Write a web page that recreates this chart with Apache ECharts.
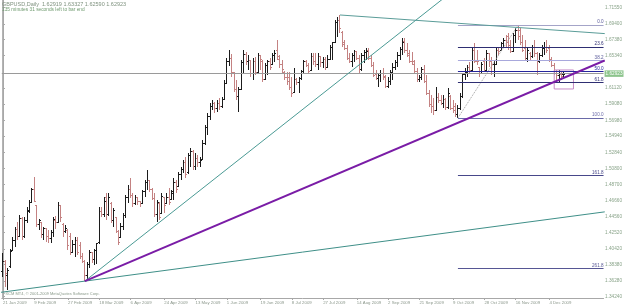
<!DOCTYPE html>
<html><head><meta charset="utf-8">
<script src="https://cdn.jsdelivr.net/npm/echarts@6/dist/echarts.min.js"></script>
<style>html,body{margin:0;padding:0;background:#fff}#c{width:625px;height:308px}</style>
</head><body><div id="c"></div>
<script>
// ---- data ----
const tickLabels = ['21 Jan 2009','9 Feb 2009','27 Feb 2009','18 Mar 2009','6 Apr 2009','24 Apr 2009','13 May 2009','1 Jun 2009','19 Jun 2009','8 Jul 2009','27 Jul 2009','14 Aug 2009','2 Sep 2009','21 Sep 2009','9 Oct 2009','28 Oct 2009','16 Nov 2009','4 Dec 2009'];
const tickIndex = [0,13,27,40,53,67,80,93,107,120,133,147,160,173,187,200,213,227];
const priceLabels = ['1.71550','1.69400','1.67380','1.65340','1.61120','1.59080','1.56980','1.54940','1.52840','1.50800','1.48700','1.46660','1.44560','1.42520','1.40420','1.38380','1.36280','1.34240'];
// daily bars [open, high, low, close], 21 Jan 2009 .. 14 Dec 2009
const ohlc = [
[1.3750,1.3990,1.3680,1.3880],[1.3880,1.3897,1.3548,1.3720],[1.3700,1.3790,1.3505,1.3760],[1.3810,1.4045,1.3800,1.4010],[1.4020,1.4190,1.4010,1.4150],
[1.4150,1.4320,1.4060,1.4290],[1.4290,1.4385,1.4155,1.4200],[1.4200,1.4475,1.4190,1.4430],[1.4430,1.4450,1.4155,1.4200],[1.4200,1.4450,1.4180,1.4400],
[1.4400,1.4580,1.4370,1.4540],[1.4520,1.4671,1.4500,1.4640],[1.4640,1.4825,1.4630,1.4800],[1.4800,1.4967,1.4640,1.4650],[1.4600,1.4610,1.4320,1.4360],
[1.4360,1.4430,1.4284,1.4400],[1.4380,1.4385,1.4180,1.4220],[1.4220,1.4320,1.4155,1.4300],[1.4300,1.4310,1.4130,1.4200],[1.4200,1.4284,1.4116,1.4180],
[1.4180,1.4280,1.4120,1.4250],[1.4250,1.4450,1.4190,1.4420],[1.4410,1.4460,1.4300,1.4380],[1.4380,1.4645,1.4370,1.4600],[1.4600,1.4610,1.4390,1.4450],
[1.4360,1.4380,1.4190,1.4270],[1.4270,1.4345,1.4245,1.4300],[1.4280,1.4300,1.4026,1.4080],[1.4200,1.4245,1.3960,1.4000],[1.4000,1.4155,1.3990,1.4100],
[1.4100,1.4190,1.3935,1.4150],[1.4150,1.4190,1.3960,1.4000],[1.4080,1.4130,1.3910,1.3940],[1.3940,1.3990,1.3860,1.3880],[1.3880,1.3897,1.3625,1.3700],
[1.3700,1.3870,1.3640,1.3840],[1.3840,1.4026,1.3800,1.3990],[1.3990,1.4000,1.3860,1.3900],[1.3900,1.4045,1.3830,1.4020],[1.4020,1.4116,1.3840,1.4110],
[1.4120,1.4580,1.4100,1.4520],[1.4520,1.4580,1.4450,1.4480],[1.4480,1.4710,1.4450,1.4650],[1.4700,1.4760,1.4413,1.4480],[1.4480,1.4760,1.4470,1.4700],
[1.4630,1.4640,1.4370,1.4400],[1.4400,1.4570,1.4320,1.4540],[1.4440,1.4450,1.4245,1.4270],[1.4270,1.4284,1.4090,1.4120],[1.4190,1.4370,1.4180,1.4330],
[1.4330,1.4500,1.4284,1.4470],[1.4470,1.4735,1.4440,1.4700],[1.4700,1.4865,1.4630,1.4810],[1.4810,1.4955,1.4700,1.4730],[1.4730,1.4760,1.4580,1.4620],
[1.4620,1.4735,1.4600,1.4700],[1.4700,1.4710,1.4600,1.4650],[1.4650,1.4655,1.4580,1.4620],[1.4630,1.4800,1.4620,1.4780],[1.4780,1.4930,1.4710,1.4900],
[1.4900,1.5057,1.4800,1.4920],[1.4920,1.4930,1.4775,1.4800],[1.4800,1.4825,1.4671,1.4690],[1.4690,1.4760,1.4450,1.4480],[1.4480,1.4671,1.4390,1.4640],
[1.4630,1.4640,1.4413,1.4450],[1.4500,1.4760,1.4490,1.4720],[1.4700,1.4710,1.4500,1.4600],[1.4630,1.4760,1.4620,1.4700],[1.4700,1.4825,1.4605,1.4640],
[1.4680,1.4800,1.4671,1.4780],[1.4760,1.4955,1.4671,1.4900],[1.4900,1.4929,1.4760,1.4800],[1.4850,1.5030,1.4840,1.5000],[1.5000,1.5096,1.4929,1.5060],
[1.5060,1.5186,1.5018,1.5150],[1.5150,1.5225,1.4955,1.5000],[1.5020,1.5277,1.5010,1.5240],[1.5240,1.5341,1.5096,1.5300],[1.5300,1.5315,1.5057,1.5100],
[1.5100,1.5277,1.5057,1.5200],[1.5200,1.5251,1.5096,1.5150],[1.5150,1.5225,1.5096,1.5180],[1.5190,1.5444,1.5186,1.5400],[1.5400,1.5640,1.5380,1.5600],
[1.5600,1.5790,1.5510,1.5750],[1.5750,1.5920,1.5700,1.5880],[1.5880,1.5960,1.5830,1.5920],[1.5920,1.5935,1.5790,1.5850],[1.5850,1.5960,1.5805,1.5920],
[1.5920,1.5985,1.5830,1.5870],[1.5870,1.5998,1.5860,1.5970],[1.5970,1.6218,1.5960,1.6170],[1.6170,1.6501,1.6160,1.6450],[1.6450,1.6605,1.6400,1.6500],
[1.6500,1.6550,1.6260,1.6310],[1.6310,1.6320,1.6063,1.6090],[1.6090,1.6218,1.5960,1.6000],[1.6000,1.6128,1.5805,1.6100],[1.6100,1.6476,1.6090,1.6440],
[1.6440,1.6605,1.6308,1.6550],[1.6550,1.6579,1.6411,1.6450],[1.6450,1.6540,1.6347,1.6470],[1.6470,1.6476,1.6256,1.6300],[1.6300,1.6501,1.6218,1.6460],
[1.6460,1.6514,1.6282,1.6320],[1.6320,1.6566,1.6308,1.6530],[1.6530,1.6540,1.6347,1.6480],[1.6460,1.6476,1.6192,1.6230],[1.6230,1.6437,1.6218,1.6400],
[1.6400,1.6476,1.6282,1.6450],[1.6450,1.6501,1.6347,1.6380],[1.6420,1.6566,1.6411,1.6540],[1.6540,1.6605,1.6450,1.6560],[1.6600,1.6733,1.6476,1.6480],
[1.6520,1.6540,1.6373,1.6420],[1.6420,1.6476,1.6308,1.6350],[1.6320,1.6330,1.6218,1.6250],[1.6250,1.6320,1.6153,1.6200],[1.6250,1.6320,1.6089,1.6120],
[1.6120,1.6256,1.5998,1.6050],[1.6060,1.6373,1.6050,1.6230],[1.6230,1.6243,1.6153,1.6180],[1.6180,1.6256,1.6050,1.6240],[1.6240,1.6347,1.6218,1.6330],
[1.6330,1.6476,1.6308,1.6450],[1.6450,1.6476,1.6385,1.6400],[1.6400,1.6437,1.6308,1.6330],[1.6340,1.6566,1.6330,1.6520],[1.6520,1.6566,1.6411,1.6450],
[1.6450,1.6566,1.6385,1.6420],[1.6420,1.6566,1.6347,1.6520],[1.6520,1.6530,1.6385,1.6440],[1.6440,1.6514,1.6373,1.6480],[1.6480,1.6514,1.6347,1.6380],
[1.6380,1.6540,1.6373,1.6480],[1.6480,1.6670,1.6476,1.6640],[1.6640,1.6708,1.6476,1.6700],[1.6700,1.6991,1.6690,1.6960],[1.6960,1.7030,1.6772,1.6980],
[1.6980,1.7056,1.6824,1.6880],[1.6836,1.6850,1.6643,1.6680],[1.6700,1.6733,1.6605,1.6620],[1.6620,1.6670,1.6476,1.6500],[1.6500,1.6566,1.6437,1.6460],
[1.6460,1.6566,1.6385,1.6540],[1.6540,1.6605,1.6450,1.6580],[1.6580,1.6590,1.6476,1.6500],[1.6500,1.6540,1.6308,1.6350],[1.6350,1.6566,1.6340,1.6530],
[1.6530,1.6605,1.6437,1.6570],[1.6570,1.6630,1.6476,1.6590],[1.6600,1.6630,1.6476,1.6490],[1.6490,1.6540,1.6385,1.6410],[1.6410,1.6450,1.6256,1.6280],
[1.6290,1.6347,1.6218,1.6240],[1.6240,1.6308,1.6128,1.6280],[1.6280,1.6347,1.6192,1.6300],[1.6300,1.6373,1.6218,1.6250],[1.6260,1.6282,1.6115,1.6140],
[1.6140,1.6256,1.6115,1.6200],[1.6200,1.6347,1.6153,1.6320],[1.6320,1.6437,1.6218,1.6380],[1.6380,1.6476,1.6347,1.6440],[1.6440,1.6579,1.6385,1.6540],
[1.6540,1.6643,1.6476,1.6610],[1.6610,1.6760,1.6540,1.6700],[1.6720,1.6760,1.6566,1.6600],[1.6600,1.6695,1.6514,1.6530],[1.6560,1.6605,1.6437,1.6460],
[1.6460,1.6579,1.6411,1.6420],[1.6450,1.6476,1.6308,1.6330],[1.6330,1.6373,1.6192,1.6220],[1.6220,1.6282,1.6192,1.6250],[1.6250,1.6385,1.6218,1.6350],
[1.6350,1.6411,1.6179,1.6200],[1.6200,1.6282,1.6025,1.6050],[1.6050,1.6089,1.5870,1.5900],[1.5900,1.6025,1.5792,1.5880],[1.5880,1.5985,1.5766,1.5830],
[1.5830,1.6128,1.5820,1.5990],[1.5990,1.6050,1.5921,1.5950],[1.5950,1.6025,1.5895,1.5920],[1.5920,1.6025,1.5857,1.5960],[1.5960,1.5985,1.5831,1.5860],
[1.5860,1.6115,1.5850,1.6050],[1.6000,1.6025,1.5831,1.5850],[1.5850,1.5960,1.5792,1.5830],[1.5880,1.5921,1.5741,1.5770],[1.5770,1.5895,1.5728,1.5850],
[1.5850,1.6050,1.5831,1.6000],[1.6000,1.6308,1.5985,1.6290],[1.6290,1.6373,1.6218,1.6320],[1.6320,1.6411,1.6256,1.6380],[1.6380,1.6450,1.6308,1.6340],
[1.6340,1.6643,1.6320,1.6600],[1.6600,1.6695,1.6437,1.6460],[1.6460,1.6605,1.6411,1.6450],[1.6380,1.6385,1.6256,1.6300],[1.6300,1.6450,1.6290,1.6420],
[1.6450,1.6501,1.6320,1.6340],[1.6340,1.6605,1.6330,1.6560],[1.6560,1.6566,1.6385,1.6450],[1.6450,1.6514,1.6282,1.6420],[1.6420,1.6470,1.6256,1.6420],
[1.6420,1.6630,1.6411,1.6600],[1.6600,1.6643,1.6540,1.6590],[1.6600,1.6708,1.6590,1.6690],[1.6690,1.6760,1.6643,1.6730],[1.6730,1.6798,1.6643,1.6700],
[1.6780,1.6824,1.6605,1.6640],[1.6660,1.6733,1.6566,1.6590],[1.6590,1.6824,1.6580,1.6790],[1.6790,1.6888,1.6695,1.6850],[1.6850,1.6927,1.6733,1.6780],
[1.6850,1.6888,1.6670,1.6700],[1.6700,1.6798,1.6579,1.6600],[1.6620,1.6733,1.6476,1.6500],[1.6500,1.6643,1.6450,1.6600],[1.6560,1.6579,1.6476,1.6520],
[1.6520,1.6670,1.6501,1.6640],[1.6640,1.6733,1.6514,1.6560],[1.6560,1.6579,1.6282,1.6450],[1.6450,1.6566,1.6437,1.6540],[1.6540,1.6670,1.6514,1.6620],
[1.6620,1.6708,1.6540,1.6640],[1.6640,1.6733,1.6566,1.6600],[1.6620,1.6670,1.6450,1.6480],[1.6480,1.6514,1.6385,1.6410],[1.6410,1.6437,1.6282,1.6300],
[1.6300,1.6347,1.6218,1.6280],[1.6280,1.6347,1.6192,1.6290],[1.6290,1.6320,1.6218,1.6260],[1.62919,1.63327,1.62590,1.62923]
];
const lastQuote = [1.62919, 1.63327, 1.62590, 1.62923];
// trend lines, anchors as [bar index, price]
const steepLine  = [[34, 1.3625], [200, 1.7686]];
const purpleLine = [[34, 1.3625], [250, 1.6469]];
const lowerLine  = [[-2, 1.3476], [250, 1.4518]];
const topLine    = [[140, 1.7056], [250, 1.6816]];
const fibAnchors = [[189, 1.5728], [214, 1.6927]];
const fibRatios  = [0, 23.6, 38.2, 50, 61.8, 100, 161.8, 261.8];
const fibNames   = ['0.0','23.6','38.2','50.0','61.8','100.0','161.8','261.8'];
const fibColors  = ['#a4a4c8','#2e2e72','#a8a8dc','#26269c','#2e2e72','#6a6aa8','#48488a','#565694'];
const boxLine    = [[229, 1.6347], [237, 1.6347], [237, 1.6102], [229, 1.6102], [229, 1.6347]];

// ---- chart ----
const FONT = 'Liberation Sans, Arial, sans-serif';
const UP = '#1c1c1c', DOWN = '#c48282';
const chart = echarts.init(document.getElementById('c'), null, {renderer: 'canvas'});
const X_MIN = -0.5, X_MAX = 249.5, Y_MIN = 1.34073, Y_MAX = 1.72491;

const barData = ohlc.map((d, i) => [i, d[0], d[1], d[2], d[3]]);
const fibHi = fibAnchors[1][1], fibLo = fibAnchors[0][1];
const fibLevels = fibRatios.map(r => fibHi - r / 100 * (fibHi - fibLo));

function renderBar(params, api) {
  const i = api.value(0), o = api.value(1), h = api.value(2), l = api.value(3), c = api.value(4);
  const ph = api.coord([i, h]), pl = api.coord([i, l]);
  const po = api.coord([i, o]), pc = api.coord([i, c]);
  const x = Math.round(ph[0] - 0.5);
  const top = Math.round(ph[1]);
  const bot = Math.max(Math.round(pl[1]), top + 1);
  const st = {fill: c >= o ? UP : DOWN};
  return {type: 'group', children: [
    {type: 'rect', shape: {x: x, y: top, width: 1, height: bot - top}, style: st},
    {type: 'rect', shape: {x: x - 1, y: Math.round(po[1] - 0.5), width: 1, height: 1}, style: st},
    {type: 'rect', shape: {x: x + 1, y: Math.round(pc[1] - 0.5), width: 1, height: 1}, style: st}
  ]};
}

function trend(data, color, width, type, z) {
  return {type: 'line', data: data, symbol: 'none', silent: true, clip: true, z: z || 5,
    lineStyle: {color: color, width: width, type: type || 'solid'}, animation: false};
}

const fibMarks = fibLevels.map((v, k) => [
  {coord: [fibAnchors[0][0], v], lineStyle: {color: fibColors[k], width: 1, type: 'solid'},
   label: {show: true, position: 'insideEndTop', formatter: fibNames[k], color: fibColors[k] === '#a8a8dc' || fibColors[k] === '#a4a4c8' ? '#5a5a9a' : fibColors[k],
           fontSize: 4.6, fontFamily: FONT, distance: [0, 0.5]}},
  {coord: [X_MAX, v]}
]);

const option = {
  animation: false,
  backgroundColor: '#ffffff',
  title: {
    text: 'GBPUSD,Daily  ' + lastQuote.map(v => v.toFixed(5)).join(' '),
    subtext: '135 minutes 31 seconds left to bar end',
    left: 2, top: 1, padding: 0, itemGap: 0.5,
    textStyle: {fontSize: 5.5, fontWeight: 'normal', color: '#7f927f', fontFamily: FONT},
    subtextStyle: {fontSize: 4.8, color: '#6f9a6f', fontFamily: FONT}
  },
  graphic: [{type: 'text', left: 3, top: 292, silent: true,
    style: {text: 'FXCM MT4, \u00a9 2001-2009 MetaQuotes Software Corp.', fontSize: 4, fill: '#8a9a8a', fontFamily: FONT}}],
  grid: {left: 1, right: 20, top: 0, bottom: 10},
  xAxis: {
    type: 'value', min: X_MIN, max: X_MAX,
    axisLine: {show: true, lineStyle: {color: '#a8a8a8', width: 1}},
    splitLine: {show: false},
    axisTick: {show: true, length: 2, customValues: tickIndex, lineStyle: {color: '#a8a8a8'}},
    axisLabel: {customValues: tickIndex, align: 'left', margin: 2.5, fontSize: 4.3, color: '#8c988c', fontFamily: FONT,
      formatter: v => tickLabels[tickIndex.indexOf(Math.round(v))] || ''}
  },
  yAxis: [{
    type: 'value', position: 'right', min: Y_MIN, max: Y_MAX, scale: true,
    axisLine: {show: true, lineStyle: {color: '#a8a8a8', width: 1}},
    splitLine: {show: false},
    axisTick: {show: true, length: 2, customValues: priceLabels.map(Number), lineStyle: {color: '#a8a8a8'}},
    axisLabel: {customValues: priceLabels.map(Number), margin: 1.5, fontSize: 4.7, color: '#8aa48a', fontFamily: FONT,
      formatter: v => v.toFixed(5)}
  }, {
    type: 'value', position: 'left', min: Y_MIN, max: Y_MAX, scale: true,
    axisLine: {show: true, lineStyle: {color: '#b4b4b4', width: 1}},
    axisTick: {show: false}, axisLabel: {show: false}, splitLine: {show: false}
  }],
  series: [
    {type: 'custom', name: 'GBPUSD', renderItem: renderBar, data: barData, clip: true, z: 2,
     encode: {x: 0, y: [1, 2, 3, 4]}, silent: true,
     markLine: {silent: true, symbol: ['none', 'none'], animation: false,
       data: [{yAxis: lastQuote[3], lineStyle: {color: '#9a9a9a', width: 1, type: 'solid'},
         label: {show: true, position: 'end', formatter: lastQuote[3].toFixed(5), backgroundColor: '#8cc48c',
                 color: '#ffffff', fontSize: 4.7, fontFamily: FONT, padding: [1, 1, 0.5, 1], distance: 1}}]}},
    trend(lowerLine, '#3f8f88', 1),
    trend(steepLine, '#4a9a94', 1),
    trend(topLine, '#5a9c98', 1),
    trend(purpleLine, '#7a1ca6', 2, 'solid', 6),
    Object.assign(trend(fibAnchors, '#a0a0a0', 1, 'dotted', 4), {
      markLine: {silent: true, symbol: ['none', 'none'], animation: false, data: fibMarks}}),
    trend(boxLine, '#c68ac6', 1, 'solid', 4)
  ]
};
chart.setOption(option);
</script>
</body></html>
